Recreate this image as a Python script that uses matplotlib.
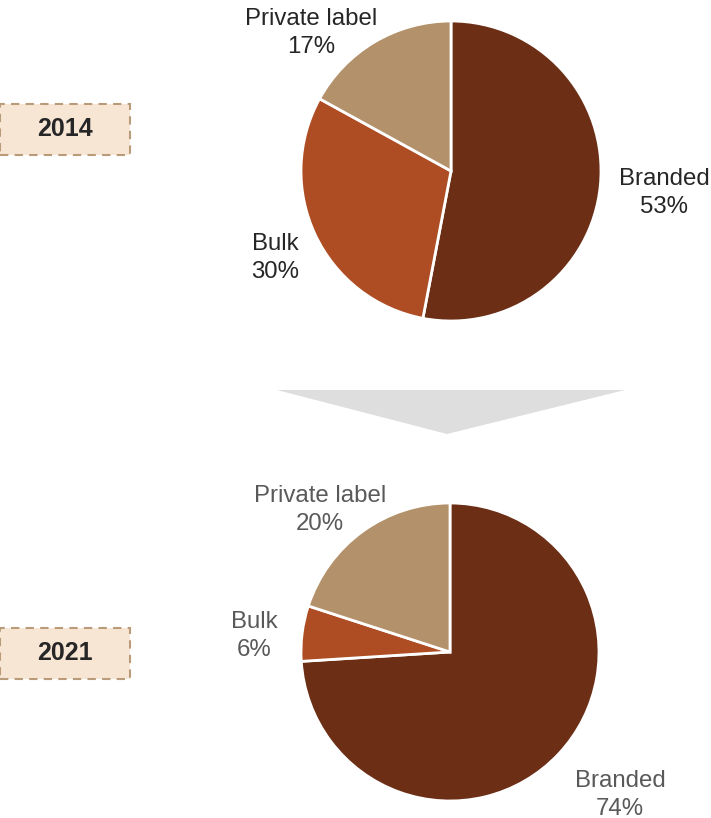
import matplotlib.pyplot as plt
from matplotlib.patches import FancyBboxPatch, Polygon

plt.rcParams["font.family"] = ["Liberation Sans", "DejaVu Sans"]

# ---------------------------------------------------------------------------
# Data
# ---------------------------------------------------------------------------

YEARS = ["2014", "2021"]
SEGMENTS = ["Branded", "Bulk", "Private label"]
SHARE_2014 = [53, 30, 17]
SHARE_2021 = [74, 6, 20]

COLORS = ["#6C2F16", "#AE4D24", "#B3916A"]

W, H = 711, 818

# ---------------------------------------------------------------------------
# Layout (pixel coordinates, y measured from the top)
# ---------------------------------------------------------------------------

pies = [
    dict(share=SHARE_2014, center=(451, 171), radius=150, text_color="#262626",
         label_pos=[(664, 193), (275, 258), (311, 33)]),
    dict(share=SHARE_2021, center=(450, 652), radius=149, text_color="#595959",
         label_pos=[(620, 795), (254, 636), (320, 510)]),
]
box_centers = [(65, 129), (65, 653)]

fig = plt.figure(figsize=(W / 100, H / 100), dpi=100)
ax = fig.add_axes([0, 0, 1, 1])


def fy(y):
    return H - y


for year, pie, (bx, by) in zip(YEARS, pies, box_centers):
    cx, cy = pie["center"]
    ax.pie(pie["share"], colors=COLORS, startangle=90, counterclock=False,
           center=(cx, fy(cy)), radius=pie["radius"],
           wedgeprops=dict(edgecolor="white", linewidth=2))
    for name, val, (lx, ly) in zip(SEGMENTS, pie["share"], pie["label_pos"]):
        ax.text(lx, fy(ly), f"{name}\n{val}%", ha="center", va="center",
                fontsize=17.3, color=pie["text_color"], linespacing=1.3)

    # year tag
    box = FancyBboxPatch((bx - 65, fy(by) - 25.5), 130, 51,
                         boxstyle="square,pad=0", facecolor="#F8E6D5",
                         edgecolor="#BA9B79", linewidth=1.5, linestyle=(0, (4, 3)))
    ax.add_patch(box)
    ax.text(bx, fy(by), year, ha="center", va="center", fontsize=18,
            fontweight="bold", color="#262626")

# arrow between the two years
ax.add_patch(Polygon([(277, fy(390)), (625, fy(390)), (447, fy(434))],
                     closed=True, facecolor="#DEDEDE", edgecolor="none"))

ax.set_xlim(0, W)
ax.set_ylim(0, H)
ax.set_aspect("equal")
ax.axis("off")

plt.savefig("out.png", dpi=100)
